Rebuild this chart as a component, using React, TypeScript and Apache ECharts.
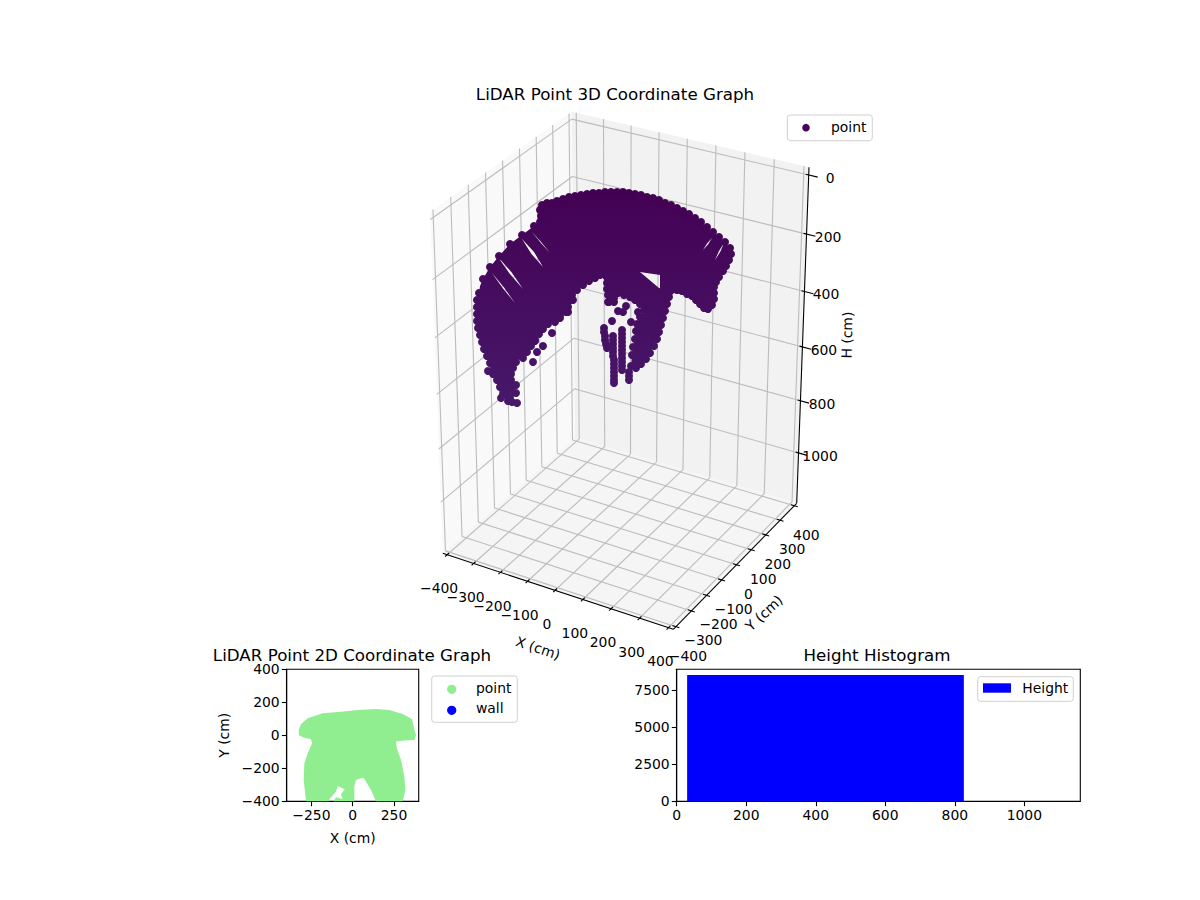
import React, { useEffect, useRef } from "react";
import * as echarts from "echarts";

// tick values of the 3D panel
const xTicks3d = [-400, -300, -200, -100, 0, 100, 200, 300, 400];
const yTicks3d = [-400, -300, -200, -100, 0, 100, 200, 300, 400];
const hTicks3d = [0, 200, 400, 600, 800, 1000];

// The picture only shows the cloud from one view and about 8500 points merge into one shape,
// so the 3D cloud is read off the view plane: outlines for the merged body, points for what stands out.
const bodyOutline = [
    [508, 401], [501, 396], [497, 384], [491, 370], [484, 349], [479, 328], [477, 307], [480, 286],
    [483, 279], [492, 273], [503, 288.5], [515, 303], [504, 287.5], [492, 273], [483, 279],
    [490, 267],
    [498, 257], [509.7, 273.8], [523, 289], [511.5, 272.2], [498, 257], [490, 267],
    [499, 256], [510, 244],
    [522, 239], [531.5, 254], [543, 267], [534, 252], [522, 239], [510, 244],
    [522, 235],
    [532, 232], [540.7, 242.8], [550, 253], [541.3, 242.2], [532, 232], [522, 235],
    [534, 226], [540, 222], [540, 208], [552, 202], [575, 196], [605, 192], [635, 194], [665, 203], [695, 218], [713, 232],
    [712, 238], [707, 243.6], [703, 250], [708, 244.4], [712, 238], [713, 232],
    [725, 242],
    [724, 243], [719, 251], [715, 260], [720.3, 251.8], [724, 243], [725, 242],
    [731, 250], [726, 266], [716, 282], [714, 299], [708, 309], [700, 304], [692, 296], [677, 293],
    [662, 292], [660, 288], [660, 275], [640, 272], [640, 300], [630, 296], [616, 290], [612, 300], [608, 300], [607, 283],
    [600, 275], [589, 281], [577, 290], [569, 301], [566, 312], [554, 320], [543, 329], [535, 340], [526, 350],
    [516, 362], [511, 374], [513, 386], [510, 397],
];
const legOutline = [
    [640, 272], [659, 288], [677, 290], [670, 297], [665, 311], [661, 325], [657, 339], [650, 353], [641, 364],
    [631, 366], [632, 355], [635, 339], [637, 324], [644, 310], [636, 300], [636, 285],
];
const edgePoints = [
    [512, 402], [517, 403], [508, 401], [501, 398], [503, 394], [500, 387], [497, 380], [493, 374], [490, 363],
    [487, 356], [484, 349], [482, 342], [480, 335], [478, 328], [477, 321], [477, 314], [477, 307], [477, 300],
    [479, 293], [483, 279], [490, 267], [499, 256], [510, 244], [522, 235], [534, 226], [540, 222], [541, 216],
    [540, 210], [542, 205], [547, 203],
    [552, 203], [557, 201], [563, 199], [569, 197], [575, 196], [581, 195], [587, 194], [593, 193], [599, 193],
    [605, 192], [611, 192], [617, 192], [623, 192], [629, 193], [635, 194], [641, 195], [647, 197], [653, 198],
    [659, 200], [665, 203], [671, 205], [677, 208], [683, 211], [689, 214], [695, 218], [701, 222], [707, 227],
    [713, 232], [719, 237], [725, 242], [730, 248], [731, 254], [729, 260], [726, 266], [723, 271], [719, 277],
    [716, 282], [714, 287], [714, 293], [714, 299], [712, 305], [708, 309], [704, 308], [700, 304], [696, 300],
    [692, 296], [687, 294], [682, 291], [677, 290], [669, 297], [667, 304], [665, 311], [663, 318], [661, 325],
    [659, 332], [657, 339], [654, 346], [650, 353], [646, 359], [641, 364], [636, 368], [631, 366], [632, 355],
    [633, 347], [635, 339], [636, 331], [637, 324], [640, 317], [644, 310], [640, 304], [635, 300], [630, 297],
    [624, 295], [618, 293], [614, 298], [608, 302], [607, 283], [607, 289], [608, 295], [600, 275], [595, 278],
    [589, 281], [583, 285], [577, 290], [572, 295], [569, 301], [568, 307], [566, 312], [560, 315], [554, 320],
    [548, 324], [543, 329], [539, 334], [535, 340], [531, 346], [526, 350], [521, 356], [516, 362], [513, 368],
    [511, 374], [511, 380], [513, 386], [512, 392], [510, 397],
];
const loosePoints = [
    [552, 333], [543, 346], [537, 352], [533, 362], [527, 352], [523, 358], [488, 371], [516, 393], [516, 385],
    [560, 318], [555, 322], [547, 323], [535, 341], [568, 312], [573, 300],
    [612, 321], [631, 322], [618, 311], [623, 312], [626, 306], [638, 312], [609, 302], [614, 302], [619, 290],
];
const barPoints = [
    [604, 328], [604, 332], [605, 336], [605, 340], [606, 344], [607, 348], [613, 336], [613, 340], [613, 344],
    [613, 348], [613, 352], [613, 356], [614, 360], [614, 364], [614, 368], [614, 372], [614, 376], [614, 380],
    [614, 383], [622, 330], [622, 334], [622, 338], [622, 342], [622, 346], [622, 350], [622, 354], [622, 358],
    [622, 362], [622, 366], [622, 370], [629, 372], [629, 376], [629, 380],
];

// footprint of the cloud in the 2D panel, in cm
const footprint2d = [
    [-327, 32], [-313, 69], [-273, 103], [-182, 133], [-71, 143], [30, 154], [141, 160], [222, 154], [303, 129],
    [360, 97], [374, 32], [384, 2], [374, -28], [313, -32], [263, -38], [267, -79], [293, -149], [313, -250],
    [319, -331], [303, -400], [141, -400], [111, -331], [65, -255], [20, -271], [10, -311], [10, -400],
    [-117, -400], [-101, -376], [-61, -386], [-71, -356], [-48, -327], [-91, -307], [-101, -341], [-141, -388],
    [-145, -400], [-283, -400], [-297, -271], [-293, -170], [-273, -109], [-246, -48], [-253, -24], [-303, -12],
    [-327, 2],
];
const xTicks2d = [-250, 0, 250];
const yTicks2d = [-400, -200, 0, 200, 400];

// histogram: one bin [from, to, count]
const heightBins = [[30, 826, 8536]];
const histXTicks = [0, 200, 400, 600, 800, 1000];
const histYTicks = [0, 2500, 5000, 7500];

const FONT = "DejaVu Sans";
const minus = (v: number) => String(v).replace("-", "\u2212");

// 3D box limits and where its corners fall on the view plane
const XY_LIM = 416.7;
const H_TOP = -25.5;
const H_BOTTOM = 1199;
const bottomCorners = [[442.7, 553.3], [673.3, 629.3], [796.7, 503.3], [575, 437.7]];
const topCorners = [[430, 211.7], [677, 276], [809, 167.3], [571.7, 111.7]];

// foreshortening along one box edge
const warp = (t: number, b: number) => ((1 + b) * t) / (1 + b * t);

const project = (x: number, y: number, h: number) => {
    const u = warp((x + XY_LIM) / (2 * XY_LIM), -0.05);
    const v = warp((y + XY_LIM) / (2 * XY_LIM), 0.05);
    const w = warp((h - H_TOP) / (H_BOTTOM - H_TOP), 0.1);
    const face = (c: number[][], k: number) =>
        (1 - v) * ((1 - u) * c[0][k] + u * c[1][k]) + v * ((1 - u) * c[3][k] + u * c[2][k]);
    return [0, 1].map((k) => (1 - w) * face(topCorners, k) + w * face(bottomCorners, k));
};

const polygons = (outlines: number[][][], fill: any, axis: number) => ({
    type: "custom",
    coordinateSystem: "cartesian2d",
    xAxisIndex: axis,
    yAxisIndex: axis,
    silent: true,
    data: outlines.map((_, i) => [i]),
    renderItem: (p: any, api: any) => ({
        type: "polygon",
        shape: { points: outlines[p.dataIndex].map((pt) => api.coord(pt)) },
        style: { fill },
    }),
});

const segments = (lines: number[][][], stroke: string, lineWidth: number) => ({
    type: "custom",
    coordinateSystem: "cartesian2d",
    xAxisIndex: 0,
    yAxisIndex: 0,
    silent: true,
    data: lines.map((_, i) => [i]),
    renderItem: (p: any, api: any) => {
        const [a, b] = lines[p.dataIndex].map((pt) => api.coord(pt));
        return {
            type: "line",
            shape: { x1: a[0], y1: a[1], x2: b[0], y2: b[1] },
            style: { stroke, lineWidth, fill: null },
        };
    },
});

const texts = (items: { text: string; at: number[]; rotation?: number }[]) => ({
    type: "custom",
    coordinateSystem: "cartesian2d",
    xAxisIndex: 0,
    yAxisIndex: 0,
    silent: true,
    data: items.map((_, i) => [i]),
    renderItem: (p: any, api: any) => {
        const item = items[p.dataIndex];
        const [x, y] = api.coord(item.at);
        return {
            type: "text",
            x,
            y,
            rotation: item.rotation || 0,
            style: {
                text: item.text,
                fill: "#000",
                font: `13.9px "${FONT}"`,
                textAlign: "center",
                textVerticalAlign: "middle",
            },
        };
    },
});

const legendText = (text: string, x: number, y: number) => ({
    type: "text",
    x,
    y,
    z: 20,
    style: { text, fill: "#000", font: `13.9px "${FONT}"`, textVerticalAlign: "middle" },
});
const legendBox = (x: number, y: number, width: number, height: number) => ({
    type: "rect",
    z: 19,
    shape: { x, y, width, height, r: 3 },
    style: { fill: "rgba(255,255,255,0.8)", stroke: "#d0d0d0", lineWidth: 1 },
});

const plainAxis = (gridIndex: number, name: string, range: number[], ticks: number[], nameGap: number, labelFmt = minus) => ({
    gridIndex,
    type: "value",
    min: range[0],
    max: range[1],
    name,
    nameLocation: "middle",
    nameGap,
    nameTextStyle: { color: "#000", fontFamily: FONT, fontSize: 13.9 },
    splitLine: { show: false },
    axisLine: { onZero: false, lineStyle: { color: "#000", width: 1.1 } },
    axisTick: { customValues: ticks, length: 4.9, lineStyle: { color: "#000", width: 1.1 } },
    axisLabel: {
        customValues: ticks,
        formatter: (v: number) => labelFmt(v),
        color: "#000",
        fontFamily: FONT,
        fontSize: 13.9,
        margin: 7,
    },
});

const titleStyle = { color: "#000", fontFamily: FONT, fontSize: 16.7, fontWeight: "normal" };

const App: React.FC = () => {
    const chartRef = useRef<HTMLDivElement>(null);

    useEffect(() => {
        const chart = echarts.init(chartRef.current!, undefined, { renderer: "svg" });

        const L = XY_LIM;
        const sidePane = [
            [project(-L, -L, H_TOP), project(-L, L, H_TOP), project(-L, L, H_BOTTOM), project(-L, -L, H_BOTTOM)],
        ];
        const backPane = [
            [project(-L, L, H_TOP), project(L, L, H_TOP), project(L, L, H_BOTTOM), project(-L, L, H_BOTTOM)],
        ];
        const floorPane = [
            [project(-L, -L, H_BOTTOM), project(L, -L, H_BOTTOM), project(L, L, H_BOTTOM), project(-L, L, H_BOTTOM)],
        ];

        const gridLines: number[][][] = [];
        xTicks3d.forEach((x) => {
            gridLines.push([project(x, L, H_TOP), project(x, L, H_BOTTOM)]);
            gridLines.push([project(x, -L, H_BOTTOM), project(x, L, H_BOTTOM)]);
        });
        yTicks3d.forEach((y) => {
            gridLines.push([project(-L, y, H_TOP), project(-L, y, H_BOTTOM)]);
            gridLines.push([project(-L, y, H_BOTTOM), project(L, y, H_BOTTOM)]);
        });
        hTicks3d.forEach((h) => {
            gridLines.push([project(-L, -L, h), project(-L, L, h)]);
            gridLines.push([project(-L, L, h), project(L, L, h)]);
        });

        const axisLines: number[][][] = [
            [project(-L, -L, H_BOTTOM), project(L, -L, H_BOTTOM)],
            [project(L, -L, H_BOTTOM), project(L, L, H_BOTTOM)],
            [project(L, L, H_BOTTOM), project(L, L, H_TOP)],
        ];
        xTicks3d.forEach((x) => axisLines.push([project(x, -L - 12, H_BOTTOM), project(x, -L + 12, H_BOTTOM)]));
        yTicks3d.forEach((y) => axisLines.push([project(L - 12, y, H_BOTTOM), project(L + 12, y, H_BOTTOM)]));
        hTicks3d.forEach((h) => axisLines.push([project(L - 10, L, h), project(L + 30, L, h)]));

        const labels3d = [
            ...xTicks3d.map((x) => {
                const p = project(x, -L, H_BOTTOM);
                return { text: minus(x), at: [p[0] - 8, p[1] + 33.5] };
            }),
            ...yTicks3d.map((y) => {
                const p = project(L, y, H_BOTTOM);
                return { text: minus(y), at: [p[0] + 12, p[1] + 29] };
            }),
            ...hTicks3d.map((h) => {
                const p = project(L, L, h);
                return { text: String(h), at: [p[0] + 21.5, p[1] + 3] };
            }),
            { text: "X (cm)", at: [538, 648], rotation: -0.32 },
            { text: "Y (cm)", at: [764, 613], rotation: 0.75 },
            { text: "H (cm)", at: [847, 335], rotation: 1.55 },
        ];

        const cloudFill = new echarts.graphic.LinearGradient(
            0, 190, 0, 405,
            [
                { offset: 0, color: "#440154" },
                { offset: 1, color: "#47186a" },
            ],
            true,
        );

        chart.setOption({
            animation: false,
            title: [
                { text: "LiDAR Point 3D Coordinate Graph", left: 610, top: 80, textAlign: "center", textStyle: titleStyle },
                { text: "LiDAR Point 2D Coordinate Graph", left: 347, top: 641, textAlign: "center", textStyle: titleStyle },
                { text: "Height Histogram", left: 872, top: 641, textAlign: "center", textStyle: titleStyle },
            ],
            grid: [
                { left: 0, top: 0, width: 1200, height: 900, show: false },
                { left: 286.7, top: 669.3, width: 132, height: 132, show: true, borderColor: "#000", borderWidth: 1.1, backgroundColor: "#fff" },
                { left: 676.7, top: 669.3, width: 403.6, height: 132, show: true, borderColor: "#000", borderWidth: 1.1, backgroundColor: "#fff" },
            ],
            xAxis: [
                { gridIndex: 0, type: "value", min: 0, max: 1200, show: false },
                plainAxis(1, "X (cm)", [-400, 400], xTicks2d, 30),
                plainAxis(2, "", [0, 1161], histXTicks, 23),
            ],
            yAxis: [
                { gridIndex: 0, type: "value", min: 0, max: 900, inverse: true, show: false },
                plainAxis(1, "Y (cm)", [-400, 400], yTicks2d, 56),
                plainAxis(2, "", [0, 8919], histYTicks, 40),
            ],
            visualMap: {
                show: false,
                type: "continuous",
                seriesIndex: 8,
                dimension: 1,
                min: 190,
                max: 405,
                inRange: { color: ["#440154", "#47186a"] },
            },
            graphic: [
                legendBox(787.3, 115, 85, 25.7),
                { type: "circle", z: 20, shape: { cx: 806, cy: 127.7, r: 3.8 }, style: { fill: "#450559" } },
                legendText("point", 831, 126.5),
                legendBox(431.7, 676, 85.6, 46.3),
                { type: "circle", z: 20, shape: { cx: 451.7, cy: 689.3, r: 4.6 }, style: { fill: "#90EE90" } },
                legendText("point", 476, 688.3),
                { type: "circle", z: 20, shape: { cx: 451.7, cy: 710.3, r: 4.6 }, style: { fill: "#0000ff" } },
                legendText("wall", 476, 708.3),
                legendBox(977.7, 676.7, 95.6, 24.6),
                { type: "rect", z: 20, shape: { x: 983, y: 683.3, width: 28, height: 9.4 }, style: { fill: "#0000ff" } },
                legendText("Height", 1022.3, 688.3),
            ],
            series: [
                polygons(sidePane, "#f9f9f9", 0),
                polygons(backPane, "#f2f2f2", 0),
                polygons(floorPane, "#f5f5f5", 0),
                segments(gridLines, "#bcbcbc", 1.1),
                segments(axisLines, "#000", 1.1),
                texts(labels3d),
                polygons([bodyOutline], cloudFill, 0),
                polygons([legOutline], cloudFill, 0),
                {
                    name: "point",
                    type: "scatter",
                    xAxisIndex: 0,
                    yAxisIndex: 0,
                    symbolSize: 8,
                    silent: true,
                    itemStyle: { opacity: 1 },
                    data: [...edgePoints, ...loosePoints, ...barPoints],
                },
                { ...polygons([footprint2d], "#90EE90", 1), name: "point" },
                { name: "wall", type: "scatter", xAxisIndex: 1, yAxisIndex: 1, data: [], itemStyle: { color: "#0000ff" } },
                {
                    name: "Height",
                    type: "custom",
                    coordinateSystem: "cartesian2d",
                    xAxisIndex: 2,
                    yAxisIndex: 2,
                    silent: true,
                    data: heightBins,
                    renderItem: (_: any, api: any) => {
                        const a = api.coord([api.value(0), api.value(2)]);
                        const b = api.coord([api.value(1), 0]);
                        return {
                            type: "rect",
                            shape: { x: a[0], y: a[1], width: b[0] - a[0], height: b[1] - a[1] },
                            style: { fill: "#0000ff" },
                        };
                    },
                },
            ],
        });

        return () => chart.dispose();
    }, []);

    return <div ref={chartRef} style={{ position: "absolute", left: 0, top: 0, width: 1200, height: 900 }} />;
};

export default App;
